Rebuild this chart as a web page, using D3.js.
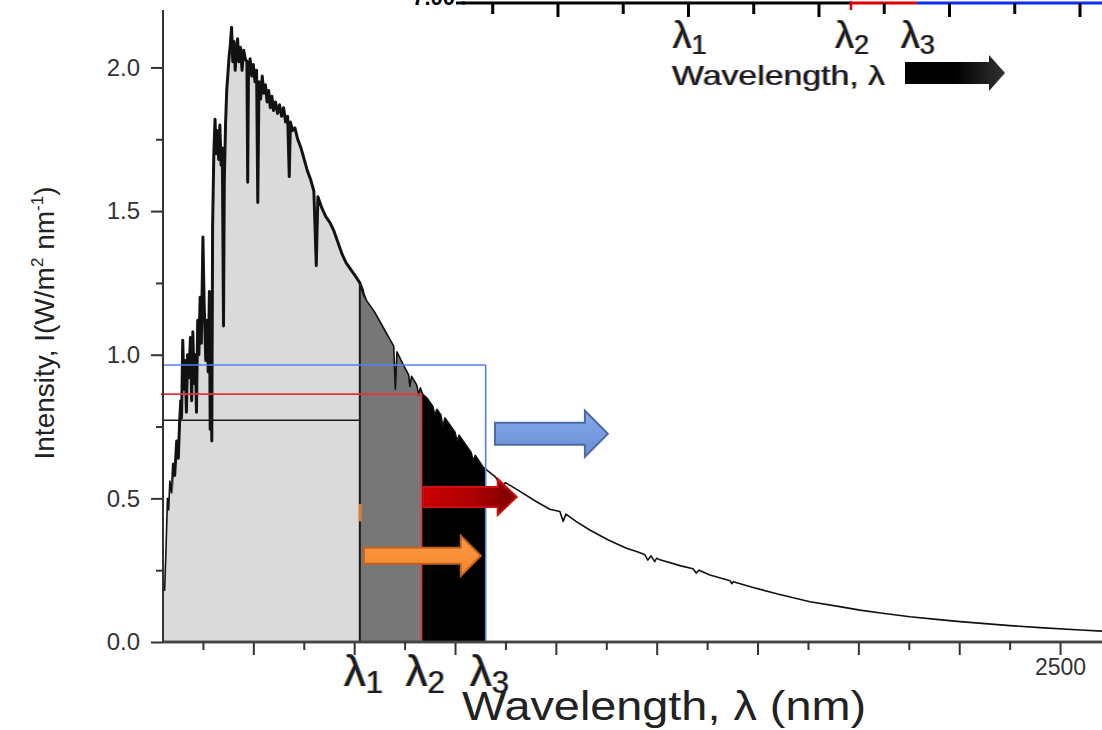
<!DOCTYPE html>
<html>
<head>
<meta charset="utf-8">
<script src="https://cdn.jsdelivr.net/npm/d3@7"></script>
<style>
  body { margin: 0; background: #fff; }
  svg { display: block; font-family: "Liberation Sans", Arial, sans-serif; }
</style>
</head>
<body>
<svg id="chart" width="1102" height="730"></svg>
<script>
// spectrum (nm, W/m2/nm)
var wavelengthNm = [276, 280, 283, 287, 290, 293, 297, 300, 305, 310, 314, 317, 320, 322, 325, 328, 331, 334, 337, 340,
  344, 347, 350, 353, 356, 359, 362, 365, 368, 371, 375, 378, 382, 385, 388, 391, 393, 395, 397, 399,
  402, 405, 408, 411, 414, 417, 420, 423, 426, 428, 431, 434, 437, 440, 443, 446, 449, 452, 455, 458,
  461, 464, 468, 472, 476, 480, 484, 486, 488, 492, 496, 500, 504, 508, 511, 514, 518, 522, 526, 530,
  534, 538, 542, 546, 550, 555, 560, 565, 570, 575, 580, 585, 589, 592, 597, 603, 610, 618, 626, 634,
  642, 650, 656, 660, 670, 680, 690, 700, 710, 720, 730, 740, 750, 764, 780, 800, 820, 840, 848, 852,
  856, 870, 885, 888, 892, 905, 910, 914, 920, 930, 945, 950, 955, 965, 970, 975, 990, 1000, 1005, 1010,
  1030, 1040, 1045, 1050, 1069, 1100, 1115, 1125, 1160, 1200, 1235, 1260, 1268, 1275, 1300, 1334, 1380, 1425, 1450, 1470,
  1478, 1486, 1495, 1500, 1508, 1560, 1590, 1598, 1605, 1632, 1682, 1686, 1690, 1739, 1800, 1880, 1950, 2004, 2060, 2128,
  2200, 2252, 2376, 2450, 2550, 2604];
var intensity = [0.20, 0.18, 0.30, 0.50, 0.46, 0.56, 0.52, 0.62, 0.58, 0.70, 0.64, 0.76, 0.84, 0.78, 1.05, 0.88, 0.98, 0.80, 1.00, 0.92,
  1.06, 0.84, 1.08, 0.90, 1.00, 0.80, 1.12, 1.00, 1.20, 1.04, 1.41, 1.18, 0.98, 1.12, 0.94, 1.22, 0.74, 1.05, 0.70, 1.45,
  1.70, 1.82, 1.70, 1.78, 1.68, 1.80, 1.66, 1.72, 1.10, 1.60, 1.80, 1.92, 1.98, 2.04, 2.08, 2.14, 2.02, 2.09, 1.99, 2.06,
  2.10, 2.02, 2.07, 1.99, 2.06, 2.03, 2.02, 1.60, 2.00, 2.03, 1.97, 2.01, 1.95, 1.99, 1.53, 1.95, 1.89, 1.97, 1.91, 1.94,
  1.88, 1.92, 1.86, 1.90, 1.85, 1.88, 1.84, 1.87, 1.83, 1.86, 1.81, 1.83, 1.62, 1.81, 1.78, 1.79, 1.75, 1.72, 1.68, 1.64,
  1.61, 1.57, 1.31, 1.55, 1.51, 1.48, 1.46, 1.43, 1.39, 1.35, 1.32, 1.30, 1.28, 1.25, 1.19, 1.15, 1.10, 1.05, 1.03, 0.88,
  1.01, 0.97, 0.93, 0.89, 0.925, 0.895, 0.86, 0.885, 0.862, 0.85, 0.82, 0.79, 0.81, 0.79, 0.75, 0.78, 0.75, 0.73, 0.70, 0.72,
  0.68, 0.66, 0.63, 0.65, 0.61, 0.575, 0.54, 0.555, 0.525, 0.49, 0.462, 0.454, 0.42, 0.445, 0.42, 0.39, 0.355, 0.326, 0.315, 0.305,
  0.285, 0.30, 0.28, 0.292, 0.286, 0.265, 0.255, 0.24, 0.25, 0.233, 0.213, 0.203, 0.21, 0.19, 0.167, 0.14, 0.124, 0.111, 0.10, 0.088,
  0.078, 0.071, 0.057, 0.05, 0.042, 0.038];

var yMajorTicks = [0, 0.5, 1.0, 1.5, 2.0];
var yMinorTicks = [0.25, 0.75, 1.25, 1.75];
var xMajorTicks = [500, 750, 1000, 1250, 1500, 1750, 2000, 2250, 2500];
var xMinorTicks = [375, 625, 875, 1125, 1375, 1625, 1875, 2125, 2375];
var xTickLabels = ['2500'];

// band edges and the levels drawn for them
var lambdaNm = [764, 917, 1076];
var lambdaNames = ['1', '2', '3'];
var levelValues = [0.772, 0.863, 0.964];
var levelColors = ['#1a1a1a', '#e8313b', '#5a80e8'];
var bandColors = ['#dadada', '#777777', '#000000'];

// block arrows (nm from, nm to, level)
var arrowFrom = [774, 921, 1099];
var arrowTo = [1064, 1153, 1379];
var arrowLevel = [0.30, 0.505, 0.725];

// inset strip at the top (cut off)
var insetTicks = [1, 2, 3, 4, 5, 6, 7, 8, 9, 10];
var insetLambda = [4, 6.49, 7.5];

var svg = d3.select('#chart');
svg.append('rect').attr('width', 1102).attr('height', 730).attr('fill', '#fff');

var x = d3.scaleLinear().domain([276, 2604]).range([163, 1102]);
var y = d3.scaleLinear().domain([0, 2.2]).range([642, 10]);

var spectrum = wavelengthNm.map(function(w, i) { return {w: w, v: intensity[i]}; });

var valueAt = function(w) {
  var i = d3.bisector(function(d) { return d.w; }).left(spectrum, w);
  if (i <= 0) return spectrum[0].v;
  var a = spectrum[i - 1], b = spectrum[i];
  return a.v + (b.v - a.v) * (w - a.w) / (b.w - a.w);
};

var defs = svg.append('defs');

// colour fringe filter for the lambda labels
var fr = defs.append('filter').attr('id', 'fringe').attr('x', '-20%').attr('y', '-20%').attr('width', '140%').attr('height', '140%');
fr.append('feFlood').attr('flood-color', '#e08a20').attr('flood-opacity', 0.85).attr('result', 'o');
fr.append('feComposite').attr('in', 'o').attr('in2', 'SourceAlpha').attr('operator', 'in').attr('result', 'oa');
fr.append('feOffset').attr('in', 'oa').attr('dx', -1.3).attr('result', 'oo');
fr.append('feFlood').attr('flood-color', '#3a7ee8').attr('flood-opacity', 0.85).attr('result', 'b');
fr.append('feComposite').attr('in', 'b').attr('in2', 'SourceAlpha').attr('operator', 'in').attr('result', 'ba');
fr.append('feOffset').attr('in', 'ba').attr('dx', 1.3).attr('result', 'bo');
var fm = fr.append('feMerge');
fm.append('feMergeNode').attr('in', 'oo');
fm.append('feMergeNode').attr('in', 'bo');
fm.append('feMergeNode').attr('in', 'SourceGraphic');

// band fills under the curve
var edges = [wavelengthNm[0]].concat(lambdaNm);
var area = d3.area().x(function(d) { return x(d.w); }).y0(y(0)).y1(function(d) { return y(d.v); });

bandColors.forEach(function(c, i) {
  defs.append('clipPath').attr('id', 'band' + i)
      .append('rect')
      .attr('x', x(edges[i]))
      .attr('y', 0)
      .attr('width', x(edges[i + 1]) - x(edges[i]))
      .attr('height', 730);
  svg.append('path')
      .datum(spectrum)
      .attr('clip-path', 'url(#band' + i + ')')
      .attr('fill', c)
      .attr('d', area);
});

// spectrum line; heavier where the measured data is dense and noisy
var line = d3.line().x(function(d) { return x(d.w); }).y(function(d) { return y(d.v); });
defs.append('clipPath').attr('id', 'dense')
    .append('rect').attr('x', x(300)).attr('y', 0).attr('width', x(775) - x(300)).attr('height', 730);
svg.append('path')
    .datum(spectrum)
    .attr('clip-path', 'url(#dense)')
    .attr('fill', 'none')
    .attr('stroke', '#1a1a1a')
    .attr('stroke-width', 3)
    .attr('stroke-linejoin', 'round')
    .attr('d', line);
svg.append('path')
    .datum(spectrum)
    .attr('fill', 'none')
    .attr('stroke', '#111')
    .attr('stroke-width', 1.6)
    .attr('stroke-linejoin', 'round')
    .attr('d', line);

// level lines: horizontal from the axis, vertical at each lambda
lambdaNm.forEach(function(w, i) {
  var top = i === 0 ? valueAt(w) : levelValues[i];
  svg.append('line')
      .attr('x1', i === 1 ? 161 : x(wavelengthNm[0])).attr('x2', x(w))
      .attr('y1', y(levelValues[i])).attr('y2', y(levelValues[i]))
      .attr('stroke', levelColors[i]).attr('stroke-width', 1.6);
  svg.append('line')
      .attr('x1', x(w)).attr('x2', x(w))
      .attr('y1', y(top)).attr('y2', y(0))
      .attr('stroke', levelColors[i]).attr('stroke-width', i === 0 ? 2 : 1.6);
});

// small orange sliver on the lambda1 edge
svg.append('rect')
    .attr('x', x(lambdaNm[0]) - 1).attr('y', y(0.48)).attr('width', 3).attr('height', y(0.42) - y(0.48))
    .attr('fill', '#e07a30');

// axes
var yAxis = svg.append('g').attr('transform', 'translate(163,0)');
yAxis.call(d3.axisLeft(y).tickValues(yMajorTicks).tickSize(12).tickPadding(11).tickFormat(d3.format('.1f')));
yAxis.append('g').call(d3.axisLeft(y).tickValues(yMinorTicks).tickSize(7).tickFormat(''));
yAxis.selectAll('.domain').attr('stroke', '#333').attr('stroke-width', 2).attr('d', 'M0,' + y(0) + 'V10');
yAxis.selectAll('.tick line').attr('stroke', '#333').attr('stroke-width', 2);
yAxis.attr('font-size', 24).attr('font-family', '"Liberation Sans", Arial, sans-serif');
yAxis.selectAll('.tick text').attr('fill', '#333');

var xAxis = svg.append('g').attr('transform', 'translate(0,' + y(0) + ')');
xAxis.call(d3.axisBottom(x).tickValues(xMajorTicks).tickSize(13).tickPadding(4)
    .tickFormat(function(d) { return xTickLabels.indexOf(String(d)) >= 0 ? String(d) : ''; }));
xAxis.append('g').call(d3.axisBottom(x).tickValues(xMinorTicks).tickSize(8).tickFormat(''));
xAxis.selectAll('.domain').attr('stroke', '#444').attr('stroke-width', 2.4).attr('d', 'M163,0H1102');
xAxis.selectAll('.tick line').attr('stroke', '#333').attr('stroke-width', 2);
xAxis.attr('font-size', 23).attr('font-family', '"Liberation Sans", Arial, sans-serif');
xAxis.selectAll('.tick text').attr('fill', '#333');

// block arrows
var arrowStyle = [
  {h: 8, H: 20, L: 20, fill: 'url(#gOrange)', stroke: '#c4631f'},
  {h: 10, H: 18, L: 19, fill: 'url(#gRed)', stroke: '#c81010'},
  {h: 11, H: 23, L: 23, fill: 'url(#gBlue)', stroke: '#4c6ba6'}
];
var grad = function(id, stops, vertical) {
  var g = defs.append('linearGradient').attr('id', id)
      .attr('x1', 0).attr('y1', 0).attr('x2', vertical ? 0 : 1).attr('y2', vertical ? 1 : 0);
  stops.forEach(function(s, i) {
    g.append('stop').attr('offset', i / (stops.length - 1)).attr('stop-color', s);
  });
};
grad('gOrange', ['#fb9a45', '#f5852a'], true);
grad('gRed', ['#c80000', '#b00000', '#7a0000'], false);
grad('gBlue', ['#86a8e8', '#6a8fd6'], true);
grad('gBlack', ['#000', '#000', '#333'], false);

var blockArrow = function(x0, x1, cy, h, H, L) {
  var xh = x1 - L;
  return 'M' + x0 + ',' + (cy - h) + 'H' + xh + 'V' + (cy - H) + 'L' + x1 + ',' + cy +
      'L' + xh + ',' + (cy + H) + 'V' + (cy + h) + 'H' + x0 + 'Z';
};

arrowFrom.forEach(function(w, i) {
  var s = arrowStyle[i];
  svg.append('path')
      .attr('d', blockArrow(x(w), x(arrowTo[i]), y(arrowLevel[i]), s.h, s.H, s.L))
      .attr('fill', s.fill).attr('stroke', s.stroke).attr('stroke-width', 2);
});

// lambda with subscript, with the colour fringe seen in the picture
var lambdaText = function(px, py, size, sub, subSize) {
  var t = svg.append('text').attr('x', px).attr('y', py)
      .attr('font-size', size).attr('fill', '#1a1a1a')
      .attr('filter', 'url(#fringe)')
      .text('\u03bb');
  t.append('tspan').attr('font-size', subSize).attr('dy', subSize * 0.22).text(sub);
};

lambdaNm.forEach(function(w, i) {
  lambdaText(x(w) - 16, 686, 44, lambdaNames[i], 31);
});

svg.append('text')
    .attr('x', 462).attr('y', 720)
    .attr('font-size', 41).attr('fill', '#222')
    .attr('textLength', 404).attr('lengthAdjust', 'spacingAndGlyphs')
    .text('Wavelength, \u03bb (nm)');

// y axis title
var yt = svg.append('text')
    .attr('transform', 'translate(54,' + 323 + ') rotate(-90)')
    .attr('text-anchor', 'middle')
    .attr('font-size', 28).attr('fill', '#222');
yt.append('tspan').text('Intensity, I(W/m');
yt.append('tspan').attr('font-size', 17).attr('dy', -11).text('2');
yt.append('tspan').attr('dy', 11).text(' nm');
yt.append('tspan').attr('font-size', 17).attr('dy', -11).text('-1');
yt.append('tspan').attr('dy', 11).text(')');

// inset strip at the top
var xi = d3.scaleLinear().domain([1, 10]).range([492.7, 1080]);
var insetSeg = [[0.53, insetLambda[1], '#000'], [insetLambda[1], insetLambda[2], '#e00000'], [insetLambda[2], 10.4, '#0a2df0']];
insetSeg.forEach(function(s) {
  svg.append('line').attr('x1', xi(s[0])).attr('x2', xi(s[1])).attr('y1', 3).attr('y2', 3)
      .attr('stroke', s[2]).attr('stroke-width', 3);
});
svg.append('line').attr('x1', xi(insetLambda[1])).attr('x2', xi(insetLambda[1])).attr('y1', 1.5).attr('y2', 10)
    .attr('stroke', '#e00000').attr('stroke-width', 2.5);
svg.append('line').attr('x1', 456).attr('x2', 465).attr('y1', 3).attr('y2', 3).attr('stroke', '#000').attr('stroke-width', 3);
svg.selectAll('.itick').data(insetTicks).enter().append('line')
    .attr('class', 'itick')
    .attr('x1', function(d) { return xi(d); }).attr('x2', function(d) { return xi(d); })
    .attr('y1', 3).attr('y2', function(d) { return d % 2 === 0 ? 17 : 14; })
    .attr('stroke', '#000').attr('stroke-width', 3);
svg.append('text').attr('x', 455).attr('y', 5).attr('text-anchor', 'end')
    .attr('font-size', 22).attr('font-weight', 'bold').attr('fill', '#000').text('7.00');

insetLambda.forEach(function(v, i) {
  lambdaText(xi(v) - 16, 48, 38, lambdaNames[i], 27);
});
svg.append('text').attr('x', 672).attr('y', 85)
    .attr('font-size', 28).attr('fill', '#1a1a1a')
    .attr('filter', 'url(#fringe)')
    .attr('textLength', 213).attr('lengthAdjust', 'spacingAndGlyphs')
    .text('Wavelength, \u03bb');
svg.append('path')
    .attr('d', blockArrow(905, 1005, 73, 11, 18, 16))
    .attr('fill', 'url(#gBlack)');
</script>
</body>
</html>
